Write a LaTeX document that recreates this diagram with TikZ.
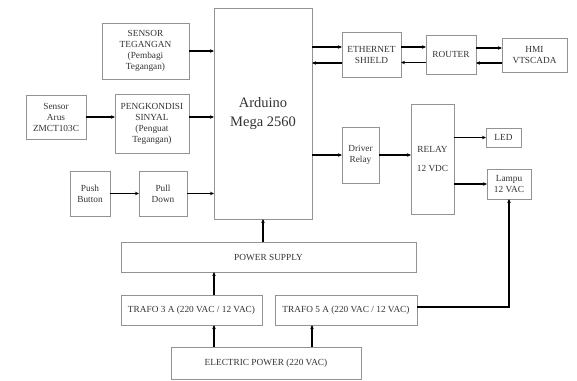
\documentclass[tikz,border=0pt]{standalone}
\usepackage{fontspec}
\setmainfont{Liberation Serif}
\usetikzlibrary{
    arrows.meta,
    calc,
    positioning
}
\tikzset{
    every picture/.style = {
        > = {Stealth[length=4pt, width=3.5pt]},
        x = 1pt,
        y = -1pt
    },
    block/.style = {
        draw = gray!85,
        line width = 0.8pt,
        inner sep = 1pt,
        outer sep = 0pt,
        align = center,
        text = black!80,
        font = \fontsize{9.3}{11}\selectfont
    },
    arr/.style = {
        ->,
        line width = 1.3pt
    }
}

\begin{document}
\begin{tikzpicture}
    \useasboundingbox (0,0) rectangle (577,380);

    % sensors and inputs
    \node[block, minimum width = 87pt, minimum height = 56pt] (senteg) at (145.5,51)
        {SENSOR\\TEGANGAN\\(Pembagi\\Tegangan)};
    \node[block, minimum width = 60pt, minimum height = 44pt] (senarus) at (56,117)
        {Sensor\\Arus\\ZMCT103C};
    \node[block, minimum width = 74pt, minimum height = 59pt] (pengk) at (152,123.5)
        {PENGKONDISI\\SINYAL\\(Penguat\\Tegangan)};
    \node[block, minimum width = 40pt, minimum height = 45pt] (push) at (90,193.5)
        {Push\\Button};
    \node[block, minimum width = 48pt, minimum height = 45pt] (pull) at (163,193.5)
        {Pull\\Down};

    % controller
    \node[block, minimum width = 98pt, minimum height = 211pt,
          font = \fontsize{14.5}{19}\selectfont] (mega) at (263,113.5)
        {Arduino\\Mega 2560};

    % network
    \node[block, minimum width = 59pt, minimum height = 45pt] (eth) at (371.5,54.5)
        {ETHERNET\\SHIELD};
    \node[block, minimum width = 50pt, minimum height = 39pt] (router) at (451,54.5)
        {ROUTER};
    \node[block, minimum width = 65pt, minimum height = 34pt] (hmi) at (534.5,55)
        {HMI\\VTSCADA};

    % outputs
    \node[block, minimum width = 37pt, minimum height = 56pt] (driver) at (360.5,155)
        {Driver\\Relay};
    \node[block, minimum width = 43pt, minimum height = 110pt,
          font = \fontsize{9.3}{19}\selectfont] (relay) at (432.5,159)
        {RELAY\\12 VDC};
    \node[block, minimum width = 35pt, minimum height = 19pt] (led) at (503.5,137.5)
        {LED};
    \node[block, minimum width = 44pt, minimum height = 30pt] (lampu) at (509,184)
        {Lampu\\12 VAC};

    % power
    \node[block, minimum width = 295pt, minimum height = 30pt] (psu) at (268.5,257)
        {POWER SUPPLY};
    \node[block, minimum width = 141pt, minimum height = 30pt] (trafoa) at (191.5,310)
        {TRAFO 3 A (220 VAC / 12 VAC)};
    \node[block, minimum width = 142pt, minimum height = 30pt] (trafob) at (346,310)
        {TRAFO 5 A (220 VAC / 12 VAC)};
    \node[block, minimum width = 190pt, minimum height = 32pt] (mains) at (266,363)
        {ELECTRIC POWER (220 VAC)};

    % inputs to the board
    \draw[arr] (senteg.east) -- (senteg.east -| mega.west);
    \draw[arr] (senarus.east) -- (senarus.east -| pengk.west);
    \draw[arr] ([yshift=6.5pt]pengk.east) -- ([yshift=6.5pt]pengk.east -| mega.west);
    \draw[arr] (push.east) -- (pull.west);
    \draw[arr] (pull.east) -- (pull.east -| mega.west);

    % ethernet links
    \draw[arr] ([yshift=7.5pt]eth.west -| mega.east) -- ([yshift=7.5pt]eth.west);
    \draw[arr] ([yshift=-8.5pt]eth.west) -- ([yshift=-8.5pt]eth.west -| mega.east);
    \draw[arr] ([yshift=7.5pt]eth.east) -- ([yshift=7.5pt]eth.east -| router.west);
    \draw[arr] ([yshift=-8pt]router.west) -- ([yshift=-8pt]router.west -| eth.east);
    \draw[arr] ([yshift=6.5pt]router.east) -- ([yshift=6.5pt]router.east -| hmi.west);
    \draw[arr] ([yshift=-8pt]hmi.west) -- ([yshift=-8pt]hmi.west -| router.east);

    % relay chain
    \draw[arr] (driver.west -| mega.east) -- (driver.west);
    \draw[arr] (driver.east) -- (driver.east -| relay.west);
    \draw[arr] (led.west -| relay.east) -- (led.west);
    \draw[arr] (lampu.west -| relay.east) -- (lampu.west);

    % power path
    \draw[arr] (psu.north -| mega.south) -- (mega.south);
    \draw[arr] (trafoa.north -| mega.west) -- (psu.south -| mega.west);
    \draw[arr] (mains.north -| mega.west) -- (trafoa.south -| mega.west);
    \draw[arr] (mains.north -| mega.east) -- (trafob.south -| mega.east);
    \draw[arr] ([yshift=3pt]trafob.east) -| (lampu.south);
\end{tikzpicture}
\end{document}
